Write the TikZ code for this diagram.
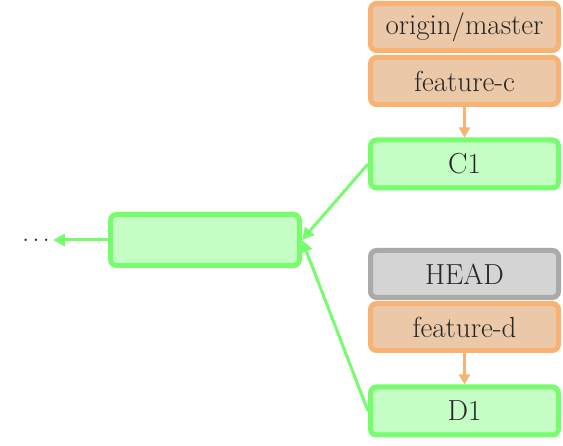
\documentclass[tikz,border=0pt]{standalone}
\usetikzlibrary{arrows.meta}
\usepackage{xcolor}
\definecolor{ref-line}{HTML}{F7B274}
\definecolor{ref-fill}{HTML}{EBC9A8}
\definecolor{commit-line}{HTML}{77FC6E}
\definecolor{commit-fill}{HTML}{C5FEC4}
\definecolor{head-line}{HTML}{AAAAAA}
\definecolor{head-fill}{HTML}{D4D4D4}

\begin{document}
\begin{tikzpicture}[x=1pt, y=1pt,
        every node/.style={font=\fontsize{29}{33}\selectfont, text=black!85},
        refbox/.style={draw=ref-line, fill=ref-fill, line width=5pt, rounded corners=6pt,
            minimum width=188pt, minimum height=47pt, inner sep=0pt},
        commitbox/.style={draw=commit-line, fill=commit-fill, line width=5pt, rounded corners=6pt,
            minimum width=188pt, minimum height=48pt, inner sep=0pt},
        headbox/.style={draw=head-line, fill=head-fill, line width=5pt, rounded corners=6pt,
            minimum width=188pt, minimum height=47pt, inner sep=0pt}]
      \useasboundingbox (0,0) rectangle (563,-446);
      % branch on top
      \node[refbox] (OM) at (464.5,-27) {origin/master};
      \node[refbox] (FC) at (464.5,-81) {feature-c};
      \node[commitbox] (C1) at (464.5,-164) {C1};
      \draw[-{Triangle[length=10pt, width=11pt]}, line width=3pt, ref-line] (FC.south) -- (C1.north);
      % base commit
      \node[commitbox, minimum width=189pt, minimum height=51pt] (BASE) at (205,-240) {};
      \node[inner sep=3pt] (DOTS) at (36,-240) {.\hspace{3pt}.\hspace{3pt}.};
      \draw[-{Triangle[length=12pt, width=12pt]}, line width=3pt, commit-line] (BASE.west) -- (DOTS.east);
      \draw[-{Triangle[length=12pt, width=12pt]}, line width=3pt, commit-line] (C1.west) -- (BASE.east);
      % branch below
      \node[headbox] (HEAD) at (464.5,-274) {HEAD};
      \node[refbox] (FD) at (464.5,-327) {feature-d};
      \node[commitbox] (D1) at (464.5,-411) {D1};
      \draw[-{Triangle[length=10pt, width=11pt]}, line width=3pt, ref-line] (FD.south) -- (D1.north);
      \draw[-{Triangle[length=12pt, width=12pt]}, line width=3pt, commit-line] (D1.west) -- (BASE.east);
    \end{tikzpicture}
\end{document}
